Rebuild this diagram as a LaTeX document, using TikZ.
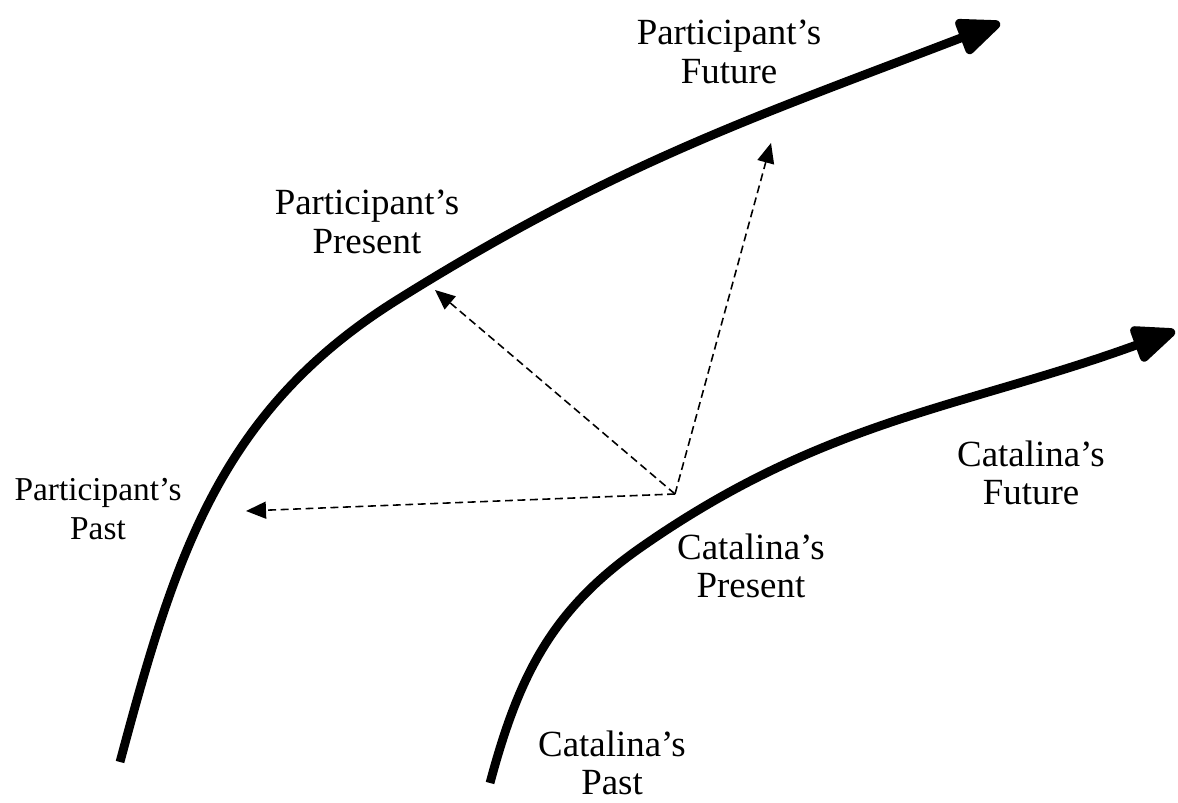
\documentclass[tikz,border=0pt]{standalone}
\usepackage{fontspec}
\setmainfont{Liberation Serif}
\usetikzlibrary{arrows.meta, positioning}

\begin{document}
\begin{tikzpicture}[
        timeline/.style={line width=5pt, -{Triangle[length=1.0cm, width=0.78cm, round]}},
        glance/.style={line width=0.9pt, dash pattern=on 4.5pt off 2.6pt, -{Triangle[length=0.4cm, width=0.34cm]}},
        lbl/.style={align=center, inner sep=0pt, font=\fontsize{21}{22}\selectfont},
        smalllbl/.style={lbl, font=\fontsize{19}{22}\selectfont}
    ]
        \useasboundingbox (0,0) rectangle (23.56,16.06);

        % participant's time line
        \coordinate (pstart) at (2.40,0.82);
        \coordinate (pmid) at (7.94,10.06);
        \coordinate (pend) at (20.00,15.60);
        \draw[timeline] (pstart) to[out=75,in=212] (pmid) to[out=32,in=201] (pend);

        % catalina's time line
        \coordinate (cstart) at (9.80,0.40);
        \coordinate (cbend) at (12.80,5.10);
        \coordinate (cend) at (23.50,9.44);
        \draw[timeline] (cstart) to[out=75,in=215] (cbend) to[out=35,in=200] (cend);

        % looking across from catalina's present
        \coordinate (now) at (13.50,6.18);
        \coordinate (ppast) at (4.92,5.84);
        \coordinate (ppresent) at (8.70,10.26);
        \coordinate (pfuture) at (15.42,13.20);
        \draw[glance] (now) -- (ppast);
        \draw[glance] (now) -- (ppresent);
        \draw[glance] (now) -- (pfuture);

        \node[lbl] (pfuturelbl) at (14.58,15.02) {Participant's\\Future};
        \node[lbl] (ppresentlbl) at (7.34,11.62) {Participant's\\Present};
        \node[smalllbl] (ppastlbl) at (1.96,5.88) {Participant's\\Past};
        \node[lbl] (cfuturelbl) at (20.62,6.60) {Catalina's\\Future};
        \node[lbl] (cpresentlbl) at (15.02,4.74) {Catalina's\\Present};
        \node[lbl] (cpastlbl) at (12.24,0.80) {Catalina's\\Past};
    \end{tikzpicture}
\end{document}
